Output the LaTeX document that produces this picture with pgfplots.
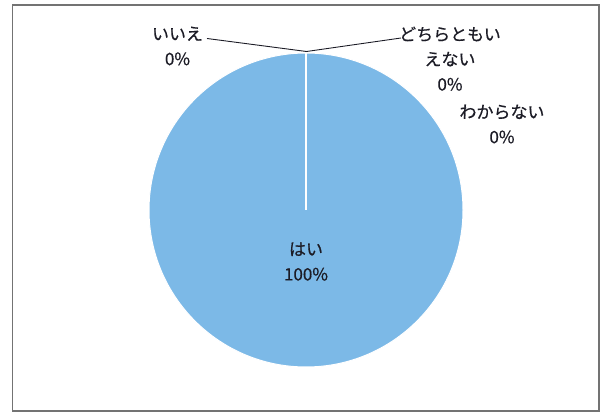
\documentclass[border=0pt]{standalone}
\usepackage{pgfplots}
\pgfplotsset{compat=1.18}
\usepackage{pgfplotstable}
\usepackage{fontspec}
\setmainfont{Noto Sans CJK JP}
\newfontfamily\jp{Noto Sans CJK JP}[FakeBold=0.6]
\definecolor{pieblue}{RGB}{124,185,231}
\definecolor{txt}{RGB}{28,28,38}
\definecolor{frame}{RGB}{115,115,115}

% answer shares (percent), in drawing order clockwise from 12 o'clock
\pgfplotstableread{
value
100
0
0
0
}\piedata

\pgfplotstablegetelem{0}{value}\of\piedata \let\vA\pgfplotsretval
\pgfplotstablegetelem{1}{value}\of\piedata \let\vB\pgfplotsretval
\pgfplotstablegetelem{2}{value}\of\piedata \let\vC\pgfplotsretval
\pgfplotstablegetelem{3}{value}\of\piedata \let\vD\pgfplotsretval
\pgfmathsetmacro\aA{90}
\pgfmathsetmacro\aB{\aA-3.6*\vA}
\pgfmathsetmacro\aC{\aB-3.6*\vB}
\pgfmathsetmacro\aD{\aC-3.6*\vC}
\pgfmathsetmacro\aE{\aD-3.6*\vD}

\begin{document}
\begin{tikzpicture}
\path[use as bounding box] (0pt,0pt) rectangle (603pt,412pt);
\begin{axis}[
  at={(0pt,0pt)}, anchor=origin,
  x=1pt, y=1pt,
  xmin=0, xmax=603, ymin=0, ymax=412,
  hide axis, clip=false,
]
% frame
\draw[frame, line width=1.1pt] (axis cs:12.7,1) rectangle (axis cs:599,407);
% slices
\fill[pieblue, draw=white, line width=1pt] (axis cs:306,202) -- ++(\aA:157pt) arc[start angle=\aA, end angle=\aB, radius=157pt] -- cycle;
\draw[white, line width=1.2pt] (axis cs:306,202) -- ++(\aB:157pt);
\draw[white, line width=1.2pt] (axis cs:306,202) -- ++(\aC:157pt);
\draw[white, line width=1.2pt] (axis cs:306,202) -- ++(\aD:157pt);
% leader lines
\draw[txt, line width=0.9pt] (axis cs:207,373.5) -- (axis cs:306.5,360.5) -- (axis cs:401,374);
% labels
\begin{scope}[every node/.style={txt, align=center, font=\jp\fontsize{17}{25}\selectfont, inner sep=0pt}]
\node at (axis cs:177.5,366) {いいえ\\0\%};
\node at (axis cs:450,353.3) {どちらともい\\えない\\0\%};
\node at (axis cs:502,288) {わからない\\0\%};
\node at (axis cs:306,150.5) {はい\\100\%};
\end{scope}
\end{axis}
\end{tikzpicture}
\end{document}
